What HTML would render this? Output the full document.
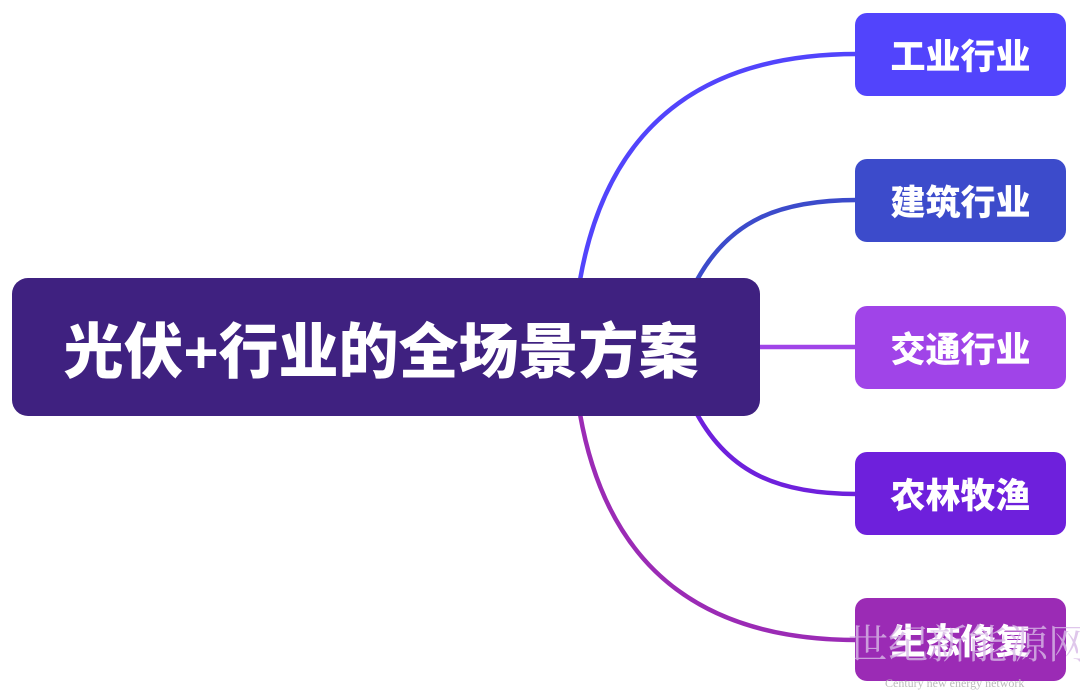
<!DOCTYPE html>
<html><head><meta charset="utf-8"><style>
body{margin:0;width:1080px;height:696px;background:#fff;position:relative;overflow:hidden;font-family:"Liberation Sans","Noto Sans CJK SC",sans-serif}
.b{position:absolute;left:855px;width:211px;height:83px;border-radius:12px;color:#fff;font-weight:900;font-size:35px;display:flex;align-items:center;justify-content:center}
#root{position:absolute;left:12px;top:278px;width:748px;height:138px;border-radius:16px;background:#3f2180;color:#fff;font-weight:900;font-size:60px;display:flex;align-items:center;justify-content:center;padding-right:10px;box-sizing:border-box}
</style></head><body>
<svg width="1080" height="696" style="position:absolute;left:0;top:0">
<g fill="none" stroke-width="4.5">
<path d="M580 280 C610 110 720 54 857 54" stroke="#5244fc"/>
<path d="M697 280 C730 220 780 200 857 200" stroke="#3c4bcb"/>
<path d="M758 347 L857 347" stroke="#a044e8"/>
<path d="M697 414 C730 474 780 494 857 494" stroke="#6e20dc"/>
<path d="M580 414 C610 584 720 640 857 640" stroke="#9b2bb5"/>
</g></svg>
<div id="root">光伏+行业的全场景方案</div>
<div class="b" style="top:13px;background:#5244fc">工业行业</div>
<div class="b" style="top:159px;background:#3c4bcb">建筑行业</div>
<div class="b" style="top:306px;background:#a044e8">交通行业</div>
<div class="b" style="top:452px;background:#6e20dc">农林牧渔</div>
<div class="b" style="top:598px;background:#9b2bb5">生态修复</div>
<div style="position:absolute;left:848px;top:614px;white-space:nowrap;font-family:'Noto Serif CJK SC',serif;font-size:40px;color:rgba(215,185,230,0.8);line-height:56px">世纪新能源网</div>
<div style="position:absolute;left:885px;top:676px;white-space:nowrap;font-family:'Liberation Serif',serif;font-size:12px;color:#bbb">Century new energy network</div>
</body></html>
